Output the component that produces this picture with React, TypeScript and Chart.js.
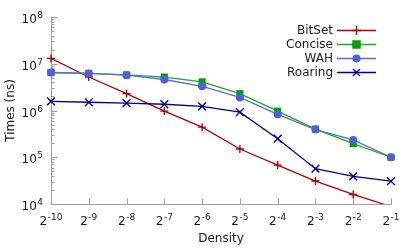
import React, { useEffect, useRef } from "react";
import { Chart, registerables } from "chart.js";

Chart.register(...registerables);

// ---- data ----
const densityExponents = [-10, -9, -8, -7, -6, -5, -4, -3, -2, -1];
const categories = densityExponents.map((e) => `2^${e}`);
const yDecades = [4, 5, 6, 7, 8];
const seriesNames = ["BitSet", "Concise", "WAH", "Roaring"];
const bitset = [1.3e7, 5.2e6, 2.3e6, 9.7e5, 4.4e5, 1.5e5, 6.8e4, 3.1e4, 1.6e4, 8.8e3];
const concise = [6.5e6, 6.2e6, 5.8e6, 5.2e6, 4.1e6, 2.3e6, 9.7e5, 4.0e5, 1.95e5, 1.0e5];
const wah = [6.5e6, 6.2e6, 5.7e6, 4.6e6, 3.3e6, 1.9e6, 8.3e5, 3.9e5, 2.35e5, 1.0e5];
const roaring = [1.56e6, 1.5e6, 1.44e6, 1.36e6, 1.22e6, 9.2e5, 2.5e5, 5.7e4, 3.9e4, 3.1e4];

const FONT = '"DejaVu Sans", sans-serif';
const TEXT = "#1a1a1a";
const AXIS = "#a0a0a0";

const YMIN = 1e4;
const YMAX = 1e8;

function drawSup(ctx: CanvasRenderingContext2D, base: string, sup: string, x: number, y: number, align: "center" | "right") {
  ctx.font = `12px ${FONT}`;
  const w1 = ctx.measureText(base).width;
  ctx.font = `9px ${FONT}`;
  const w2 = ctx.measureText(sup).width;
  const total = w1 + w2 + 0.5;
  const x0 = align === "center" ? x - total / 2 : x - total;
  ctx.textAlign = "left";
  ctx.textBaseline = "alphabetic";
  ctx.fillStyle = TEXT;
  ctx.font = `12px ${FONT}`;
  ctx.fillText(base, x0, y);
  ctx.font = `9px ${FONT}`;
  ctx.fillText(sup, x0 + w1 + 0.5, y - 5);
}

function drawMarker(ctx: CanvasRenderingContext2D, style: string, x: number, y: number, r: number, color: string, lw: number) {
  ctx.save();
  ctx.strokeStyle = color;
  ctx.fillStyle = color;
  ctx.lineWidth = lw;
  ctx.beginPath();
  if (style === "cross") {
    ctx.moveTo(x - r, y);
    ctx.lineTo(x + r, y);
    ctx.moveTo(x, y - r);
    ctx.lineTo(x, y + r);
    ctx.stroke();
  } else if (style === "crossRot") {
    const o = r * Math.SQRT1_2;
    ctx.moveTo(x - o, y - o);
    ctx.lineTo(x + o, y + o);
    ctx.moveTo(x - o, y + o);
    ctx.lineTo(x + o, y - o);
    ctx.stroke();
  } else if (style === "rect") {
    const s = r * Math.SQRT1_2;
    ctx.fillRect(x - s, y - s, 2 * s, 2 * s);
  } else {
    ctx.arc(x, y, r, 0, Math.PI * 2);
    ctx.fill();
  }
  ctx.restore();
}

const gnuplotPlugin = {
  id: "gnuplotLook",
  beforeDatasetsDraw(chart: any) {
    const ctx: CanvasRenderingContext2D = chart.ctx;
    const { left, right, top, bottom } = chart.chartArea;
    const xs = chart.scales.x;
    const ys = chart.scales.y;
    ctx.save();
    ctx.strokeStyle = AXIS;
    ctx.lineWidth = 1;
    ctx.beginPath();
    const lx = Math.round(left) + 0.5;
    const by = Math.round(bottom) + 0.5;
    ctx.moveTo(lx, Math.round(top));
    ctx.lineTo(lx, by);
    ctx.lineTo(Math.round(right) + 1, by);
    categories.forEach((_, i) => {
      const x = Math.round(xs.getPixelForValue(i)) + 0.5;
      ctx.moveTo(x, by);
      ctx.lineTo(x, by - 6);
    });
    yDecades.forEach((d) => {
      for (let m = 1; m <= 9; m++) {
        const v = m * Math.pow(10, d);
        if (v > YMAX) break;
        const y = Math.round(ys.getPixelForValue(v)) + 0.5;
        const len = m === 1 ? 6 : 3;
        ctx.moveTo(lx, y);
        ctx.lineTo(lx + len, y);
      }
    });
    ctx.stroke();
    ctx.restore();
  },
  afterDraw(chart: any) {
    const ctx: CanvasRenderingContext2D = chart.ctx;
    const { left, right, top, bottom } = chart.chartArea;
    const xs = chart.scales.x;
    const ys = chart.scales.y;
    ctx.save();
    densityExponents.forEach((e, i) => {
      const x = xs.getPixelForValue(i);
      drawSup(ctx, "2", String(e), x, bottom + 21, "center");
    });
    yDecades.forEach((d) => {
      const y = ys.getPixelForValue(Math.pow(10, d));
      drawSup(ctx, "10", String(d), left - 8, y + 6, "right");
    });
    ctx.fillStyle = TEXT;
    ctx.font = `12px ${FONT}`;
    ctx.textAlign = "center";
    ctx.textBaseline = "alphabetic";
    ctx.fillText("Density", (left + right) / 2, bottom + 38);
    ctx.save();
    ctx.translate(11, (top + bottom) / 2);
    ctx.rotate(-Math.PI / 2);
    ctx.textBaseline = "middle";
    ctx.fillText("Times (ns)", 0, 0);
    ctx.restore();
    const rowY = [30, 44, 58, 72];
    chart.data.datasets.forEach((ds: any, i: number) => {
      const y = rowY[i];
      ctx.fillStyle = TEXT;
      ctx.font = `12px ${FONT}`;
      ctx.textAlign = "right";
      ctx.textBaseline = "middle";
      ctx.fillText(ds.label, 333, y + 0.5);
      ctx.strokeStyle = ds.borderColor;
      ctx.lineWidth = ds.borderWidth;
      ctx.beginPath();
      ctx.moveTo(337, y + 0.5);
      ctx.lineTo(376, y + 0.5);
      ctx.stroke();
      drawMarker(ctx, ds.pointStyle, 356.5, y + 0.5, ds.legendRadius, ds.pointBackgroundColor, ds.pointBorderWidth);
    });
    ctx.restore();
  },
};

export default function App() {
  const ref = useRef<HTMLCanvasElement | null>(null);
  useEffect(() => {
    document.body.style.margin = "0";
    const canvas = ref.current!;
    const chart = new Chart(canvas, {
      type: "line",
      data: {
        labels: categories,
        datasets: [
          {
            label: seriesNames[0],
            data: bitset,
            borderColor: "#b40000",
            backgroundColor: "#b40000",
            pointBackgroundColor: "#b40000",
            pointBorderColor: "#b40000",
            pointStyle: "cross",
            pointRadius: (c: any) => (c.raw < YMIN ? 0 : 4),
            pointBorderWidth: 1.4,
            borderWidth: 1.3,
            legendRadius: 4.5,
            order: 4,
          } as any,
          {
            label: seriesNames[1],
            data: concise,
            borderColor: "#1faa1f",
            backgroundColor: "#00a000",
            pointBackgroundColor: "#00a000",
            pointBorderColor: "#00a000",
            pointStyle: "rect",
            pointRadius: 5,
            pointBorderWidth: 0,
            borderWidth: 1.3,
            legendRadius: 6,
            order: 3,
          } as any,
          {
            label: seriesNames[2],
            data: wah,
            borderColor: "#5a6ae0",
            backgroundColor: "#4f5fd8",
            pointBackgroundColor: "#4f5fd8",
            pointBorderColor: "#4f5fd8",
            pointStyle: "circle",
            pointRadius: 4,
            pointBorderWidth: 0,
            borderWidth: 1.3,
            legendRadius: 4,
            order: 2,
          } as any,
          {
            label: seriesNames[3],
            data: roaring,
            borderColor: "#000099",
            backgroundColor: "#000099",
            pointBackgroundColor: "#000099",
            pointBorderColor: "#000099",
            pointStyle: "crossRot",
            pointRadius: 5.5,
            pointBorderWidth: 1.4,
            borderWidth: 1.3,
            legendRadius: 5,
            order: 1,
          } as any,
        ],
      },
      options: {
        responsive: false,
        animation: false,
        devicePixelRatio: 1,
        layout: { padding: { left: 51, right: 24, top: 17, bottom: 45 } },
        elements: { line: { tension: 0 } },
        scales: {
          x: { type: "category", display: false, offset: false },
          y: { type: "logarithmic", display: false, min: YMIN, max: YMAX },
        },
        plugins: { legend: { display: false }, tooltip: { enabled: false } },
      },
      plugins: [gnuplotPlugin],
    } as any);
    return () => chart.destroy();
  }, []);
  return <canvas ref={ref} width={415} height={249} style={{ display: "block" }} />;
}
